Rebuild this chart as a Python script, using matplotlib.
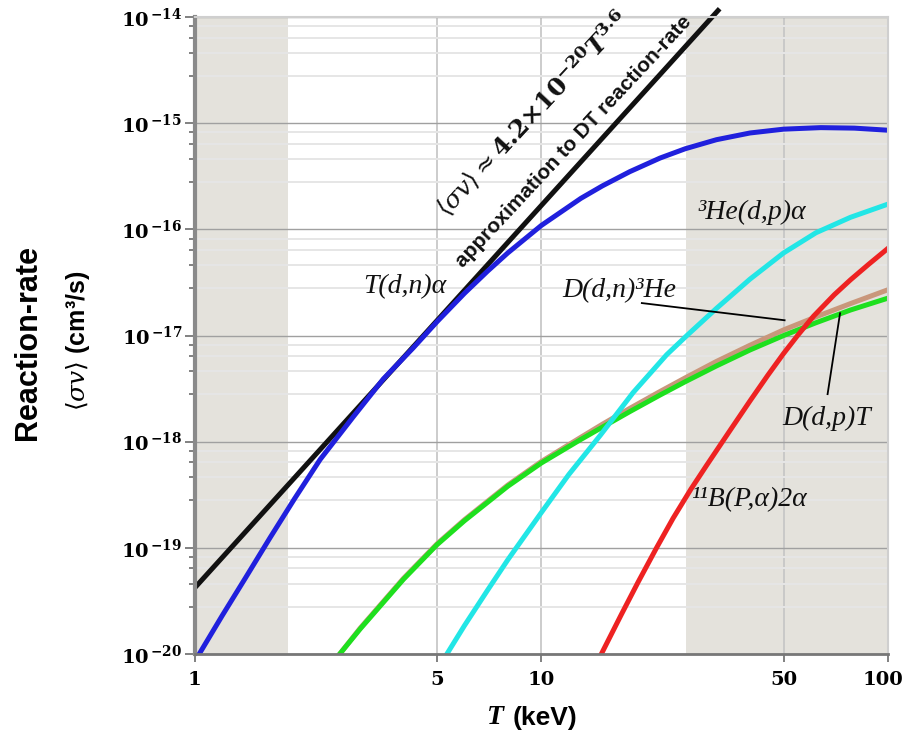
import math
import matplotlib
matplotlib.use('Agg')
import matplotlib.pyplot as plt
import matplotlib.transforms as mtransforms
from matplotlib.ticker import FixedLocator, FuncFormatter, NullFormatter

plt.rcParams['mathtext.fontset'] = 'dejavuserif'

# --- data (T in keV, <sigma v> in cm^3/s) ---
# approximation line 4.2e-20 * T^3.6 (two end points)
T_approx = [1.0, 32.7]
sv_approx = [4.2e-20, 1.2e-14]

# T(d,n)alpha
T_dt = [1.03, 1.2, 1.4, 1.65, 1.94, 2.3, 2.86, 3.5, 4.26, 5, 6, 7, 8, 10, 13, 15, 18, 22, 26, 32,
        40, 50, 64, 80, 100]
sv_dt = [1.0e-20, 2.3e-20, 5.2e-20, 1.25e-19, 2.9e-19, 6.8e-19, 1.7e-18, 3.9e-18, 7.6e-18, 1.35e-17,
         2.5e-17, 4.05e-17, 6.0e-17, 1.09e-16, 1.96e-16, 2.57e-16, 3.5e-16, 4.7e-16, 5.75e-16, 7.0e-16,
         8.1e-16, 8.8e-16, 9.1e-16, 9.0e-16, 8.6e-16]

# D(d,n)3He and D(d,p)T
T_dd = [2.62, 3, 4, 5, 6, 8, 10, 13, 15, 18, 22, 26, 32, 40, 50, 62, 78, 100]
sv_ddn = [1.0e-20, 1.75e-20, 5.15e-20, 1.09e-19, 1.84e-19, 3.9e-19, 6.5e-19, 1.1e-18, 1.46e-18, 2.06e-18,
          2.97e-18, 3.99e-18, 5.7e-18, 8.1e-18, 1.13e-17, 1.5e-17, 2.0e-17, 2.7e-17]
sv_ddp = [1.0e-20, 1.72e-20, 5.05e-20, 1.07e-19, 1.8e-19, 3.8e-19, 6.3e-19, 1.05e-18, 1.37e-18, 1.92e-18,
          2.75e-18, 3.67e-18, 5.17e-18, 7.31e-18, 1.0e-17, 1.32e-17, 1.74e-17, 2.25e-17]

# 3He(d,p)alpha
T_dhe = [5.34, 6, 7, 8, 10, 12, 14.8, 18.4, 23, 26.3, 32, 40, 50, 62, 78, 100]
sv_dhe = [1.0e-20, 1.85e-20, 4.0e-20, 7.7e-20, 2.15e-19, 4.9e-19, 1.15e-18, 2.9e-18, 6.6e-18, 1.0e-17,
          1.8e-17, 3.4e-17, 6.0e-17, 9.3e-17, 1.3e-16, 1.73e-16]

# 11B(P,alpha)2alpha
T_pb = [14.9, 17, 19, 21.5, 24, 27, 30, 35, 40, 45, 50, 55, 61, 70, 78, 88, 100]
sv_pb = [1.0e-20, 2.34e-20, 4.72e-20, 1.0e-19, 1.9e-19, 3.56e-19, 6.0e-19, 1.27e-18, 2.42e-18, 4.21e-18,
         6.77e-18, 1.01e-17, 1.52e-17, 2.42e-17, 3.35e-17, 4.69e-17, 6.62e-17]

shade_spans = [(1.0, 1.86), (26.2, 100.0)]
x_ticks = [1, 5, 10, 50, 100]
y_decades = list(range(-20, -13))

fig = plt.figure(figsize=(9.06, 7.32), dpi=100)
ax = fig.add_axes([0.215, 0.1066, 0.765, 0.870])
ax.set_xscale('log')
ax.set_yscale('log')
ax.set_xlim(1, 100)
ax.set_ylim(1e-20, 1e-14)
ax.set_axisbelow('line')

for a, b in shade_spans:
    ax.axvspan(a, b, color='#e4e2dc', lw=0, zorder=0.5)

lw = 3.6
ax.plot(T_approx, sv_approx, color='#111111', lw=lw, solid_capstyle='butt', clip_on=False, zorder=2)
ax.plot(T_dt, sv_dt, color='#2020dd', lw=lw, zorder=2.1)
ax.plot(T_dd, sv_ddn, color='#c9977b', lw=lw, zorder=2.2)
ax.plot(T_dd, sv_ddp, color='#1ee01e', lw=lw, zorder=2.3)
ax.plot(T_dhe, sv_dhe, color='#22e6e6', lw=lw, zorder=2.4)
ax.plot(T_pb, sv_pb, color='#ee2222', lw=lw, zorder=2.5)

# ticks and grid
ax.xaxis.set_major_locator(FixedLocator(x_ticks))
ax.xaxis.set_minor_locator(FixedLocator([]))
ax.xaxis.set_major_formatter(FuncFormatter(lambda v, p: '%d' % v))
ax.yaxis.set_major_locator(FixedLocator([10.0 ** d for d in y_decades]))
ax.yaxis.set_minor_locator(FixedLocator([k * 10.0 ** d for d in y_decades[:-1] for k in (2.8, 4.6, 6.4, 8.2)]))
ax.yaxis.set_minor_formatter(NullFormatter())
ax.yaxis.set_major_formatter(FuncFormatter(
    lambda v, p: r'$\mathbf{10}^{\,\mathbf{-%d}}$' % round(-math.log10(v))))

ax.grid(True, which='major', axis='y', color='#a0a0a0', lw=1.0)
ax.grid(True, which='minor', axis='y', color='#e6e6e6', lw=1.4)
ax.grid(True, which='major', axis='x', color='#c4c4c4', lw=1.2)

ax.tick_params(axis='x', which='major', length=6, width=1.3, color='#777777', labelsize=14, pad=6)
ax.tick_params(axis='y', which='major', length=7, width=1.3, color='#777777', labelsize=14, pad=2)
ax.tick_params(axis='y', which='minor', length=4, width=1.3, color='#777777')

fig.canvas.draw()
for lab in ax.get_xticklabels() + ax.get_yticklabels():
    lab.set_fontfamily('DejaVu Serif')
    lab.set_fontweight('bold')
# keep "100" inside the figure
last = ax.get_xticklabels()[-1]
last.set_transform(last.get_transform() + mtransforms.ScaledTranslation(-5 / 100, 0, fig.dpi_scale_trans))

for side in ('top', 'right'):
    ax.spines[side].set_color('#cfcfcf')
    ax.spines[side].set_linewidth(1.5)
ax.spines['left'].set_color('#8a8a8a')
ax.spines['left'].set_linewidth(3)
ax.spines['bottom'].set_color('#777777')
ax.spines['bottom'].set_linewidth(2)

# curve labels
serif_it = dict(family='Liberation Serif', style='italic', fontsize=20, color='#111111',
                transform=ax.transAxes, ha='center', va='center')
ax.text(0.303, 0.577, 'T(d,n)α', **serif_it)
ax.text(0.613, 0.571, 'D(d,n)³He', **serif_it)
ax.text(0.804, 0.694, '³He(d,p)α', **serif_it)
ax.text(0.912, 0.370, 'D(d,p)T', **serif_it)
ax.text(0.799, 0.242, '¹¹B(P,α)2α', **serif_it)

ax.plot([0.645, 0.851], [0.551, 0.524], color='black', lw=1.3, transform=ax.transAxes, zorder=3)
ax.plot([0.913, 0.931], [0.408, 0.535], color='black', lw=1.3, transform=ax.transAxes, zorder=3)

# rotated approximation text
ax.text(0.487, 0.848, r'$\langle\sigma v\rangle \approx \mathbf{4.2{\times}10^{-20}}\mathbfit{T}^{\mathbf{3.6}}$',
        transform=ax.transAxes, rotation=47, rotation_mode='anchor', ha='center', va='center',
        fontsize=18, color='#111111', zorder=4)
ax.text(0.547, 0.804, 'approximation to DT reaction-rate', transform=ax.transAxes, rotation=47,
        rotation_mode='anchor', ha='center', va='center', fontsize=15, fontweight='bold',
        family='Liberation Sans', color='#111111', zorder=4)

# axis labels
fig.text(495 / 906, 1 - 718 / 732, 'T', family='Liberation Serif', style='italic', fontweight='bold',
         fontsize=20, ha='center', va='center')
fig.text(545 / 906, 1 - 718 / 732, '(keV)', family='Liberation Sans', fontweight='bold',
         fontsize=19, ha='center', va='center')
fig.text(28 / 906, 1 - 343 / 732, 'Reaction-rate', family='Liberation Sans', fontweight='bold',
         fontsize=22, rotation=90, ha='center', va='center')
fig.text(78 / 906, 1 - 341 / 732, r'$\langle\sigma v\rangle$ (cm³/s)', family='Liberation Sans',
         fontweight='bold', fontsize=18, rotation=90, ha='center', va='center')

fig.savefig('out.png', dpi=100)
